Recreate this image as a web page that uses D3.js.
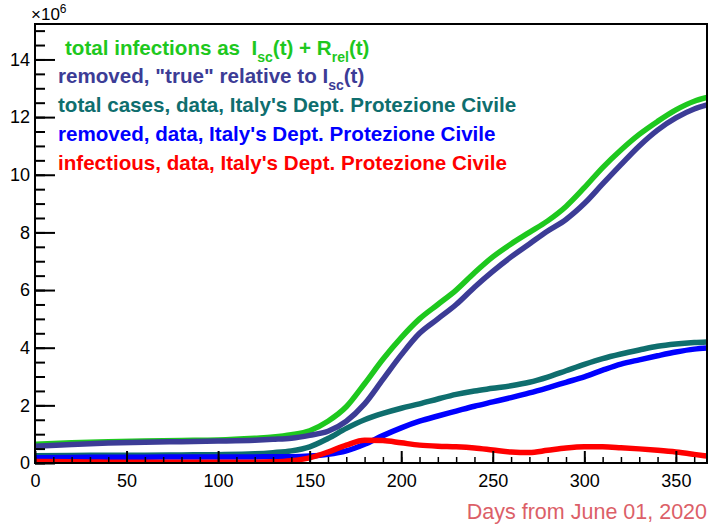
<!DOCTYPE html>
<html><head><meta charset="utf-8">
<script src="https://cdn.jsdelivr.net/npm/d3@7"></script>
<style>body{margin:0;background:#fff}svg{display:block}</style>
</head><body>
<script>
// ---- data (values in millions) ----
const days = [0,20,40,60,80,100,120,130,140,150,160,170,180,190,200,210,220,230,240,250,260,270,280,290,300,310,320,330,340,350,360,367];
const totalInfections = [0.65,0.70,0.74,0.76,0.78,0.80,0.86,0.90,0.98,1.12,1.45,1.95,2.75,3.60,4.35,5.00,5.50,6.00,6.60,7.15,7.60,8.00,8.40,8.90,9.55,10.25,10.86,11.40,11.85,12.25,12.55,12.68];
const removedTrue = [0.58,0.64,0.69,0.72,0.74,0.76,0.79,0.82,0.86,0.96,1.10,1.45,2.05,2.90,3.75,4.50,5.00,5.50,6.10,6.65,7.15,7.60,8.05,8.45,9.00,9.68,10.35,11.00,11.55,11.97,12.28,12.42];
const totalCases = [0.25,0.26,0.27,0.27,0.28,0.29,0.32,0.36,0.42,0.56,0.85,1.20,1.50,1.72,1.90,2.05,2.22,2.38,2.50,2.59,2.68,2.80,2.98,3.20,3.42,3.62,3.78,3.92,4.05,4.13,4.18,4.20];
const removedData = [0.18,0.19,0.20,0.20,0.21,0.21,0.21,0.22,0.22,0.24,0.30,0.42,0.65,0.95,1.22,1.45,1.63,1.80,1.97,2.12,2.27,2.43,2.61,2.80,2.99,3.22,3.43,3.58,3.72,3.85,3.95,3.99];
const infectious = [0.05,0.04,0.03,0.03,0.03,0.03,0.03,0.04,0.08,0.18,0.38,0.62,0.79,0.78,0.70,0.62,0.58,0.56,0.52,0.45,0.38,0.36,0.44,0.52,0.56,0.56,0.53,0.49,0.44,0.38,0.30,0.24];
const xTicks = [0,50,100,150,200,250,300,350];
const yTicks = [0,2,4,6,8,10,12,14];

const series = [
  {vals: totalInfections, color: "#1ec81e"},
  {vals: removedTrue, color: "#3c3c96"},
  {vals: totalCases, color: "#0f6e6e"},
  {vals: removedData, color: "#0000ff"},
  {vals: infectious, color: "#ff0000"}
];

const W = 710, H = 527;
const L = 35, R = 707, T = 24, B = 463;
const svg = d3.select("body").append("svg").attr("width", W).attr("height", H)
  .style("font-family", "'Liberation Sans', Arial, sans-serif");

const x = d3.scaleLinear().domain([0, 367]).range([L, R]);
const y = d3.scaleLinear().domain([0, 15.23]).range([B, T]);

svg.append("clipPath").attr("id", "clip").append("rect")
  .attr("x", L).attr("y", T).attr("width", R - L).attr("height", B - T);

const line = d3.line().x((d, i) => x(days[i])).y(d => y(d)).curve(d3.curveMonotoneX);
const g = svg.append("g").attr("clip-path", "url(#clip)");
series.forEach(s => {
  g.append("path").attr("d", line(s.vals)).attr("fill", "none")
    .attr("stroke", s.color).attr("stroke-width", 5.5);
});

// axes
svg.append("g").attr("transform", `translate(0,${B})`)
  .call(d3.axisTop(x).tickValues(d3.range(0, 367, 10)).tickSize(6).tickFormat(""))
  .call(a => a.select(".domain").remove())
  .call(a => a.selectAll("line").attr("stroke", "#000").attr("stroke-width", 1.5));
svg.append("g").attr("transform", `translate(0,${B})`)
  .call(d3.axisTop(x).tickValues(xTicks).tickSize(12).tickFormat(""))
  .call(a => a.select(".domain").remove())
  .call(a => a.selectAll("line").attr("stroke", "#000").attr("stroke-width", 2));
svg.append("g").attr("transform", `translate(0,${B})`)
  .call(d3.axisBottom(x).tickValues(xTicks).tickSize(0).tickPadding(11))
  .call(a => a.select(".domain").remove())
  .call(a => a.selectAll("text").attr("font-size", 18).attr("fill", "#000").attr("font-family", "'Liberation Sans', Arial, sans-serif"));

svg.append("g").attr("transform", `translate(${L},0)`)
  .call(d3.axisRight(y).tickValues(d3.range(0, 15.2, 0.5)).tickSize(10).tickFormat(""))
  .call(a => a.select(".domain").remove())
  .call(a => a.selectAll("line").attr("stroke", "#000").attr("stroke-width", 2));
svg.append("g").attr("transform", `translate(${L},0)`)
  .call(d3.axisRight(y).tickValues(yTicks).tickSize(20).tickFormat(""))
  .call(a => a.select(".domain").remove())
  .call(a => a.selectAll("line").attr("stroke", "#000").attr("stroke-width", 2));
svg.append("g").attr("transform", `translate(${L},0)`)
  .call(d3.axisLeft(y).tickValues(yTicks).tickSize(0).tickPadding(5))
  .call(a => a.select(".domain").remove())
  .call(a => a.selectAll("text").attr("font-size", 18).attr("fill", "#000").attr("font-family", "'Liberation Sans', Arial, sans-serif"));

// frame
svg.append("rect").attr("x", L).attr("y", T).attr("width", R - L).attr("height", B - T)
  .attr("fill", "none").attr("stroke", "#000").attr("stroke-width", 2);

// exponent
const ex = svg.append("text").attr("x", 31).attr("y", 20).attr("font-size", 17).attr("fill", "#000");
ex.append("tspan").text("×10");
ex.append("tspan").attr("font-size", 12).attr("dy", -7).text("6");

// legend
const legFont = 20.6;
function legend(yb, xs, color, parts) {
  const t = svg.append("text").attr("x", xs).attr("y", yb).attr("fill", color)
    .attr("font-size", legFont).attr("font-weight", "bold").attr("xml:space", "preserve");
  let shifted = 0;
  parts.forEach(p => {
    const ts = t.append("tspan").text(p.t);
    if (p.sub) { ts.attr("font-size", 14).attr("dy", 7 - shifted); shifted = 7; }
    else if (shifted) { ts.attr("dy", -shifted); shifted = 0; }
  });
}
legend(55, 65, "#1ec81e", [{t: "total infections as  I"}, {t: "sc", sub: true}, {t: "(t) + R"}, {t: "rel", sub: true}, {t: "(t)"}]);
legend(83, 58, "#3c3c96", [{t: "removed, \"true\" relative to I"}, {t: "sc", sub: true}, {t: "(t)"}]);
legend(112, 58, "#0f6e6e", [{t: "total cases, data, Italy's Dept. Protezione Civile"}]);
legend(141, 58, "#0000ff", [{t: "removed, data, Italy's Dept. Protezione Civile"}]);
legend(170, 58, "#ff0000", [{t: "infectious, data, Italy's Dept. Protezione Civile"}]);

// x title
svg.append("text").attr("x", 707).attr("y", 519).attr("text-anchor", "end")
  .attr("font-size", 21.5).attr("fill", "#dc5f68").text("Days from June 01, 2020");
</script>
</body></html>
